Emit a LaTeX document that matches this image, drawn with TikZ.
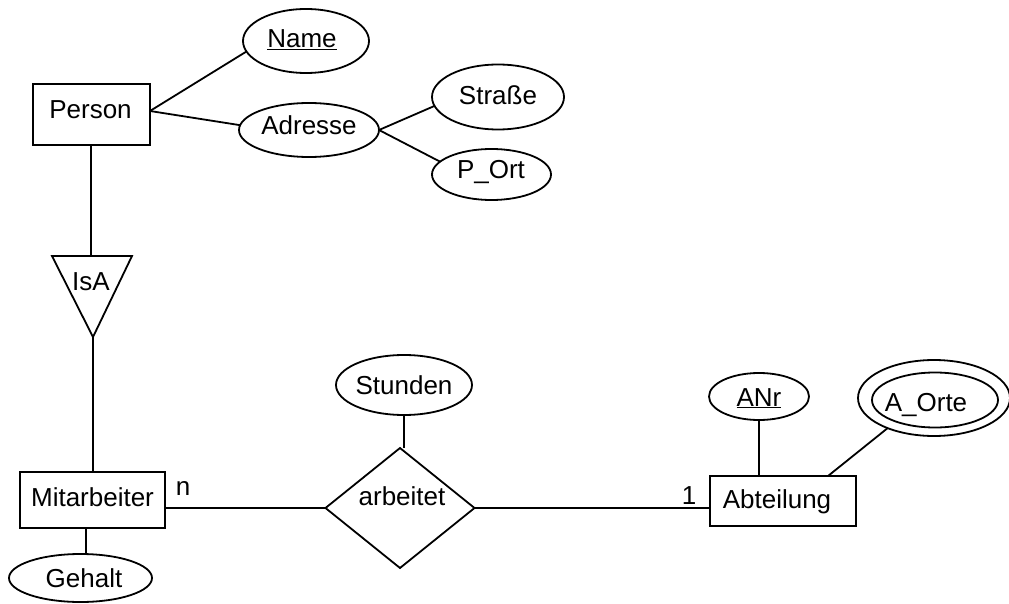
\documentclass[tikz,border=0pt]{standalone}
\usepackage{fontspec}
\setmainfont{Liberation Sans}
\usetikzlibrary{shapes.geometric,calc}
\begin{document}
\begin{tikzpicture}[x=1pt,y=-1pt,
  every node/.style={font=\fontsize{26}{30}\selectfont},
  conn/.style={line width=1.8pt},
  entity/.style={draw,line width=1.8pt,rectangle,inner sep=0pt,outer sep=0pt},
  attr/.style={draw,line width=1.8pt,ellipse,inner sep=0pt,outer sep=0pt},
  rel/.style={draw,line width=1.8pt,diamond,inner sep=0pt,outer sep=0pt},
  txt/.style={anchor=base,inner sep=0pt,outer sep=0pt}]
\useasboundingbox (0,0) rectangle (1009,604);

% shapes
\node[entity,minimum width=117pt,minimum height=61pt] (person) at (91.5,114.5) {};
\node[attr,minimum width=126pt,minimum height=64pt] (name) at (306,41) {};
\node[attr,minimum width=140pt,minimum height=54pt] (adresse) at (309,130) {};
\node[attr,minimum width=132pt,minimum height=65pt] (strasse) at (498,97) {};
\node[attr,minimum width=119pt,minimum height=51pt] (port) at (491.5,174.5) {};
\node[entity,minimum width=145pt,minimum height=56pt] (mitarbeiter) at (92.5,500) {};
\node[attr,minimum width=143pt,minimum height=48pt] (gehalt) at (80.5,578) {};
\node[attr,minimum width=136pt,minimum height=60pt] (stunden) at (404,385) {};
\node[rel,minimum width=149pt,minimum height=120pt] (arbeitet) at (400,508) {};
\node[entity,minimum width=146pt,minimum height=50pt] (abteilung) at (783,501) {};
\node[attr,minimum width=100pt,minimum height=47pt] (anr) at (759,396.5) {};
\node[attr,minimum width=152pt,minimum height=76pt] (aorte) at (934,398) {};
\node[attr,minimum width=126pt,minimum height=55pt] (aortein) at (935,400) {};

% IsA triangle
\coordinate (isatl) at (52,256);
\coordinate (isatr) at (132,256);
\coordinate (isatop) at (91,256);
\coordinate (isabot) at (93,337);
\draw[conn,line join=miter] (isatl) -- (isatr) -- (isabot) -- cycle;

% texts
\node[txt] (tperson) at (90.5,119) {Person};
\node[txt] (tname) at (302,48) {\underline{Name}};
\node[txt] (tadresse) at (309,135) {Adresse};
\node[txt] (tstrasse) at (498,105) {Straße};
\node[txt] (tport) at (491,179) {P\_Ort};
\node[txt] (tisa) at (91,290) {IsA};
\node[txt] (tmitarbeiter) at (92.5,506) {Mitarbeiter};
\node[txt] (tgehalt) at (84,587) {Gehalt};
\node[txt] (tstunden) at (404,394) {Stunden};
\node[txt] (tarbeitet) at (402,505) {arbeitet};
\node[txt] (tabteilung) at (777,508) {Abteilung};
\node[txt] (tanr) at (759,406) {\underline{ANr}};
\node[txt] (taorte) at (926,411) {A\_Orte};
\node[txt] (tn) at (183,495) {n};
\node[txt] (tone) at (689,504) {1};

% helper coordinates
\coordinate (pe) at ($(person.east)+(0,-3.5)$);
\coordinate (pbot) at (isatop |- person.south);
\coordinate (mtop) at (isabot |- mitarbeiter.north);
\coordinate (mbot) at ($(mitarbeiter.south)+(-6.5,0)$);
\coordinate (gtop) at (mbot |- gehalt.north);
\coordinate (mright) at (arbeitet.west -| mitarbeiter.east);
\coordinate (stop) at (stunden.south |- arbeitet.north);
\coordinate (aleft) at (arbeitet.east -| abteilung.west);
\coordinate (anrbot) at (anr.south);
\coordinate (atop) at (anrbot |- abteilung.north);
\coordinate (atopr) at ($(abteilung.north)+(45,0)$);

% connectors
\draw[conn] (pe) -- (name.190);
\draw[conn] (pe) -- (adresse.176);
\draw[conn] (adresse.east) -- (strasse.188);
\draw[conn] (adresse.east) -- (port.166);
\draw[conn] (pbot) -- (isatop);
\draw[conn] (isabot) -- (mtop);
\draw[conn] (mbot) -- (gtop);
\draw[conn] (mright) -- (arbeitet.west);
\draw[conn] (stunden.south) -- (stop);
\draw[conn] (arbeitet.east) -- (aleft);
\draw[conn] (anrbot) -- (atop);
\draw[conn] (aorte.213) -- (atopr);
\end{tikzpicture}
\end{document}
